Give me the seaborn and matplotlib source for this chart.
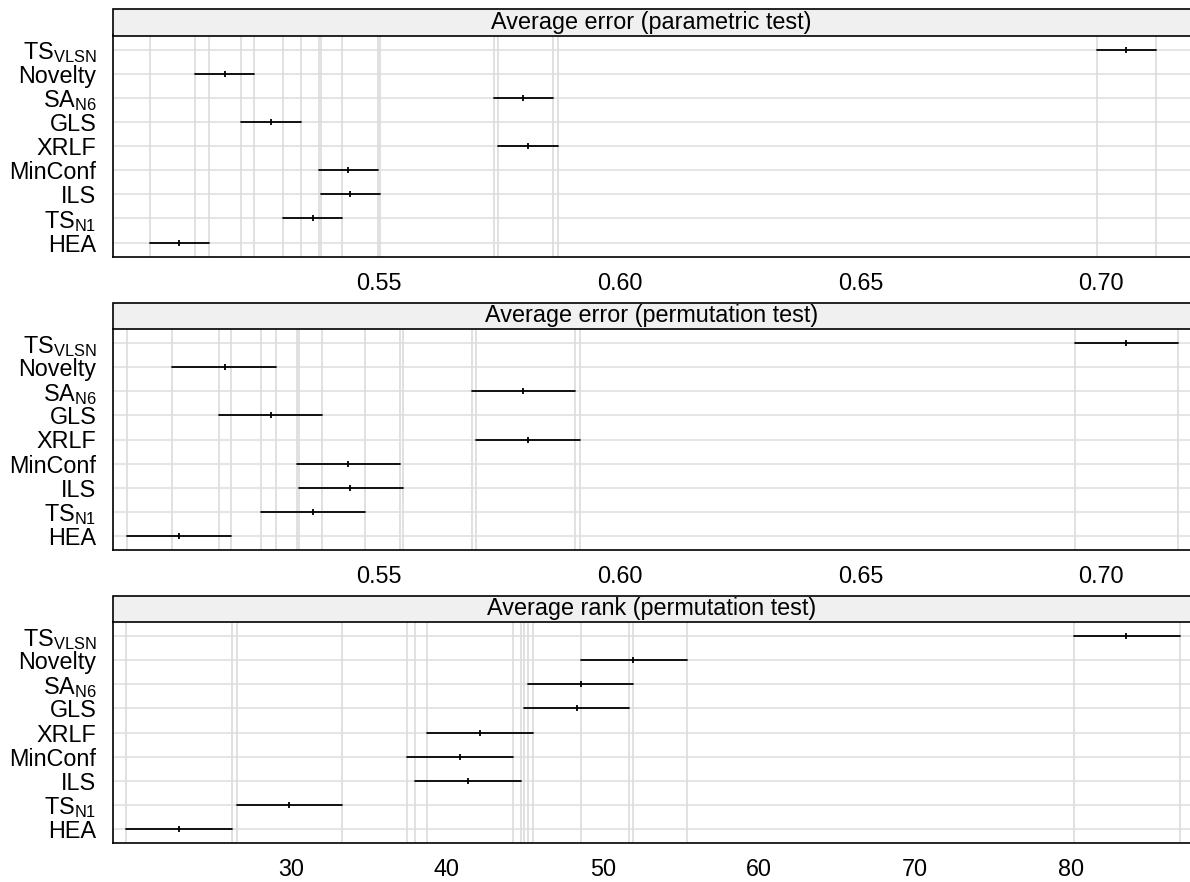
import numpy as np
import pandas as pd
import matplotlib
matplotlib.use("Agg")
import matplotlib.pyplot as plt
from matplotlib.patches import Rectangle
import seaborn as sns

# algorithms, top to bottom as shown
algorithms = ["TS_VLSN", "Novelty", "SA_N6", "GLS", "XRLF", "MinConf", "ILS", "TS_N1", "HEA"]
algorithm_labels = [r"TS$_{\mathrm{VLSN}}$", "Novelty", r"SA$_{\mathrm{N6}}$", "GLS", "XRLF",
                    "MinConf", "ILS", r"TS$_{\mathrm{N1}}$", "HEA"]

# average error, parametric test
param_mid = [0.7052, 0.5179, 0.5799, 0.5275, 0.5809, 0.5436, 0.5440, 0.5362, 0.5084]
param_lo = [0.6990, 0.5117, 0.5738, 0.5213, 0.5747, 0.5374, 0.5379, 0.5301, 0.5023]
param_hi = [0.7114, 0.5240, 0.5861, 0.5338, 0.5871, 0.5498, 0.5502, 0.5423, 0.5147]

# average error, permutation test
perm_mid = [0.7052, 0.5179, 0.5799, 0.5275, 0.5809, 0.5436, 0.5440, 0.5362, 0.5084]
perm_lo = [0.6945, 0.5070, 0.5693, 0.5167, 0.5701, 0.5329, 0.5334, 0.5255, 0.4977]
perm_hi = [0.7159, 0.5285, 0.5907, 0.5382, 0.5916, 0.5544, 0.5549, 0.5470, 0.5193]

# average rank, permutation test
rank_mid = [83.55, 51.96, 48.59, 48.32, 42.13, 40.81, 41.33, 29.91, 22.82]
rank_lo = [80.18, 48.59, 45.18, 44.93, 38.72, 37.42, 37.94, 26.53, 19.44]
rank_hi = [86.96, 55.37, 51.94, 51.69, 45.52, 44.22, 44.74, 33.30, 26.23]

panel_titles = ["Average error (parametric test)",
                "Average error (permutation test)",
                "Average rank (permutation test)"]
error_ticks = [0.50, 0.55, 0.60, 0.65, 0.70]
error_ticklabels = ["", "0.55", "0.60", "0.65", "0.70"]
rank_ticks = [20, 30, 40, 50, 60, 70, 80]
rank_ticklabels = ["", "30", "40", "50", "60", "70", "80"]

sns.set_style("white")
plt.rcParams["font.family"] = ["Liberation Sans", "DejaVu Sans"]
plt.rcParams["mathtext.fontset"] = "custom"
plt.rcParams["mathtext.rm"] = "Liberation Sans"
plt.rcParams["mathtext.it"] = "Liberation Sans:italic"
plt.rcParams["mathtext.bf"] = "Liberation Sans:bold"

FS = 16.8
GRID = "#DEDEDE"

panels = [
    (param_lo, param_mid, param_hi, error_ticks, error_ticklabels, (0.4947, 0.7184)),
    (perm_lo, perm_mid, perm_hi, error_ticks, error_ticklabels, (0.4947, 0.7184)),
    (rank_lo, rank_mid, rank_hi, rank_ticks, rank_ticklabels, (18.60, 87.63)),
]

fig = plt.figure(figsize=(11.9, 8.82), dpi=100)
W, H = 1190.0, 882.0
left_px = 113.0
axes_px = [(35.5, 257.0), (329.0, 550.0), (622.0, 843.0)]
strip_px = 26.5

for (lo, mid, hi, ticks, ticklabels, xlim), (top, bottom), title in zip(panels, axes_px, panel_titles):
    ax = fig.add_axes([left_px / W, 1 - bottom / H, 1 - left_px / W, (bottom - top) / H])

    # long table: lower end, centre and upper end for each algorithm
    df = pd.DataFrame({
        "algorithm": np.repeat(algorithms, 3),
        "value": np.column_stack([lo, mid, hi]).ravel(),
    })
    sns.pointplot(
        data=df, x="value", y="algorithm", order=algorithms,
        estimator="median", errorbar=lambda v: (v.min(), v.max()),
        color="black", linestyle="none", marker="|", markersize=4,
        markeredgewidth=1.3, capsize=0, err_kws={"linewidth": 1.3},
        ax=ax,
    )

    ax.set_xlim(*xlim)
    ax.set_ylim(len(algorithms) - 0.4, -0.6)
    ax.set_xlabel("")
    ax.set_ylabel("")

    ax.set_xticks(ticks)
    ax.set_xticklabels(ticklabels)
    ax.set_yticks(range(len(algorithms)))
    ax.set_yticklabels(algorithm_labels)

    # vertical lines at every interval end
    ax.set_xticks(sorted(set(lo) | set(hi)), minor=True)
    ax.set_axisbelow(True)
    ax.grid(False)
    ax.grid(axis="x", which="minor", color=GRID, linewidth=1.3)
    ax.grid(axis="y", which="major", color=GRID, linewidth=1.1)

    ax.tick_params(axis="x", which="minor", length=0)
    ax.tick_params(axis="both", which="major", length=2.5, width=1,
                   color="black", labelsize=FS, labelcolor="black")
    ax.tick_params(axis="x", which="major", pad=8)
    ax.tick_params(axis="y", which="major", pad=9.5)

    for s in ["top", "right"]:
        ax.spines[s].set_visible(False)
    for s in ["left", "bottom"]:
        ax.spines[s].set_color("black")
        ax.spines[s].set_linewidth(1.2)

    # facet strip
    sh = strip_px / (bottom - top)
    ax.add_patch(Rectangle((0, 1), 1.05, sh, transform=ax.transAxes, clip_on=False,
                           facecolor="#F0F0F0", edgecolor="black", linewidth=1.2))
    ax.text(0.5, 1 + sh / 2, title, transform=ax.transAxes, ha="center",
            va="center", fontsize=FS, color="black")

fig.savefig("out.png", dpi=100)
